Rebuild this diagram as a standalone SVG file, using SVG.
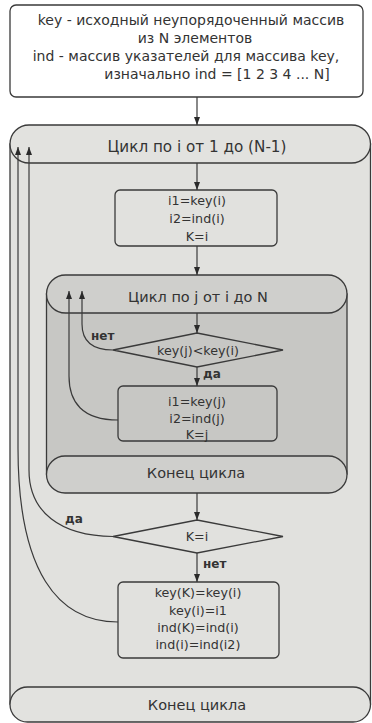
<svg xmlns="http://www.w3.org/2000/svg" width="372" height="723" viewBox="0 0 372 723">
  <style>
    text { font-family: "DejaVu Sans", "Liberation Sans", sans-serif; fill: #333; text-anchor: middle; }
    .t13 { font-size: 12.7px; }
    .t14 { font-size: 14px; }
    .t15 { font-size: 14.5px; }
    .lbl { font-size: 12px; font-weight: bold; text-anchor: start; }
    .box { stroke: #3a3a3a; stroke-width: 1.3; }
    .conn { fill: none; stroke: #3a3a3a; stroke-width: 1.2; marker-end: url(#ah); }
  </style>
  <defs>
    <marker id="ah" viewBox="0 0 8 6" refX="8" refY="3" markerWidth="8" markerHeight="6" orient="auto" markerUnits="userSpaceOnUse">
      <path d="M0,0 L8,3 L0,6 z" fill="#2a2a2a"/>
    </marker>
  </defs>

  <rect width="372" height="723" fill="#ffffff"/>

  <!-- initial data description -->
  <g id="init">
    <rect class="box" x="10" y="5" width="353" height="92" rx="6" fill="#ffffff"/>
    <text class="t14" x="191" y="25">key - исходный неупорядоченный массив</text>
    <text class="t14" x="195" y="43">из N элементов</text>
    <text class="t14" x="186" y="61">ind - массив указателей для массива key,</text>
    <text class="t14" x="217" y="79">изначально ind = [1 2 3 4 ... N]</text>
  </g>

  <!-- outer loop over i -->
  <g id="loop-i">
    <rect x="10" y="144" width="360.5" height="560" fill="#e1e1de" class="box"/>
    <rect class="box" x="10" y="125" width="360.5" height="38" rx="19" fill="#e2e2df"/>
    <text class="t15" x="197" y="152" style="font-size:15.2px">Цикл по i от 1 до (N-1)</text>
  </g>

  <g id="init-i">
    <rect class="box" x="115" y="190" width="162" height="56" rx="5" fill="#e1e1de"/>
    <text class="t13" x="197" y="205">i1=key(i)</text>
    <text class="t13" x="197" y="223">i2=ind(i)</text>
    <text class="t13" x="197" y="241">K=i</text>
  </g>

  <!-- inner loop over j -->
  <g id="loop-j">
    <rect x="46.5" y="294" width="300.5" height="180" fill="#c7c7c4" class="box"/>
    <rect class="box" x="46.5" y="275" width="300.5" height="38" rx="19" fill="#cfcfcc"/>
    <text class="t15" x="198" y="302">Цикл по j от i до N</text>
  </g>

  <g id="cmp-j">
    <polygon class="box" points="197,333 283,350 197,367 113,350" fill="#c7c7c4"/>
    <text class="t13" x="198" y="355">key(j)&lt;key(i)</text>
  </g>

  <g id="set-j">
    <rect class="box" x="118" y="386" width="159" height="55" rx="5" fill="#c7c7c4"/>
    <text class="t13" x="197" y="406">i1=key(j)</text>
    <text class="t13" x="197" y="423">i2=ind(j)</text>
    <text class="t13" x="197" y="439">K=j</text>
  </g>

  <g id="end-j">
    <rect class="box" x="46.5" y="456" width="300.5" height="37" rx="18.5" fill="#cfcfcc"/>
    <text class="t15" x="196" y="478">Конец цикла</text>
  </g>

  <g id="cmp-k">
    <polygon class="box" points="197,520 283,536.5 197,553 113,536.5" fill="#e1e1de"/>
    <text class="t13" x="197" y="541">K=i</text>
  </g>

  <g id="swap">
    <rect class="box" x="118" y="582" width="161" height="76" rx="5" fill="#e1e1de"/>
    <text class="t13" x="198" y="597">key(K)=key(i)</text>
    <text class="t13" x="198" y="615">key(i)=i1</text>
    <text class="t13" x="198" y="632">ind(K)=ind(i)</text>
    <text class="t13" x="198" y="649">ind(i)=ind(i2)</text>
  </g>

  <g id="end-i">
    <rect class="box" x="10" y="687" width="360.5" height="35" rx="17.5" fill="#e2e2df"/>
    <text class="t15" x="197" y="710">Конец цикла</text>
  </g>

  <!-- connectors -->
  <g id="connectors">
    <path class="conn" d="M197,97 V125"/>
    <path class="conn" d="M197,163 V190"/>
    <path class="conn" d="M197,246 V275"/>
    <path class="conn" d="M197,313 V333"/>
    <path class="conn" d="M197,367 V386"/>
    <path class="conn" d="M197,493 V520"/>
    <path class="conn" d="M197,553 V582"/>
    <!-- inner loop returns -->
    <path class="conn" d="M113,350 C93,350 82,342 82,324 V291"/>
    <path class="conn" d="M118,420 C82,420 69,402 69,376 V291"/>
    <!-- outer loop returns -->
    <path class="conn" d="M113,536.5 C60,536 29,512 29,470 V147"/>
    <path class="conn" d="M118,622 C58,622 18,572 18,448 V147"/>
  </g>

  <g id="labels">
    <text class="lbl" x="91" y="340">нет</text>
    <text class="lbl" x="203" y="378">да</text>
    <text class="lbl" x="65" y="523">да</text>
    <text class="lbl" x="203" y="568">нет</text>
  </g>
</svg>
